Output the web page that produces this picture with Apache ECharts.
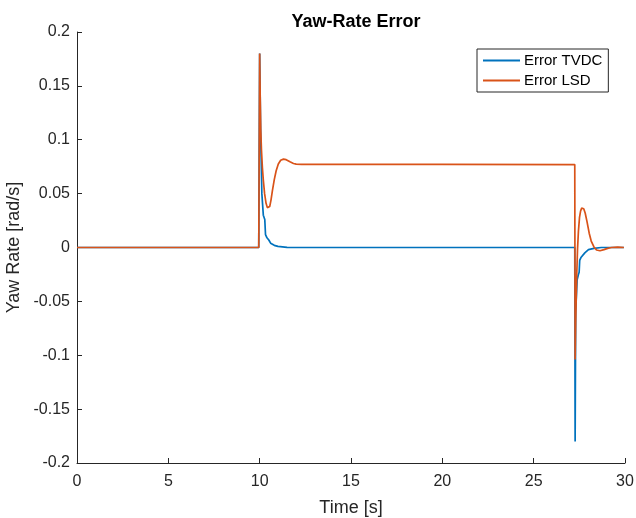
<!DOCTYPE html>
<html>
<head>
<meta charset="utf-8">
<script src="https://cdn.jsdelivr.net/npm/echarts@6/dist/echarts.min.js"></script>
<style>
  html, body { margin: 0; padding: 0; background: #ffffff; }
  #chart { width: 636px; height: 518px; }
</style>
</head>
<body>
<div id="chart"></div>
<script>
// Yaw-rate error traces (time in s, error in rad/s)
var timeTVDC = [0, 9.95, 10.0, 10.05, 10.12, 10.2, 10.28, 10.32, 10.4, 10.5, 10.6, 10.8, 11.0, 11.5, 12.0,
                27.25, 27.27, 27.30, 27.38, 27.45, 27.49, 27.52, 27.6, 27.8, 28.0, 28.3, 28.7, 29.94];
var errTVDC  = [0, 0, 0.18, 0.11, 0.05, 0.03, 0.026, 0.012, 0.009, 0.007, 0.004, 0.002, 0.001, 0.0002, 0,
                0, -0.18, -0.06, -0.03, -0.025, -0.023, -0.012, -0.009, -0.005, -0.002, -0.0008, 0, 0];

var timeLSD = [0, 9.95, 10.0, 10.03, 10.06, 10.1, 10.15, 10.2, 10.27, 10.35, 10.42, 10.48, 10.55, 10.62, 10.7,
               10.8, 10.9, 11.02, 11.15, 11.3, 11.45, 11.66, 11.85, 12.0, 12.3, 15.0, 20.0, 27.25,
               27.27, 27.30, 27.35, 27.40, 27.45, 27.51, 27.57, 27.63, 27.68, 27.74, 27.82, 27.92, 28.04,
               28.15, 28.30, 28.44, 28.63, 28.85, 29.05, 29.26, 29.6, 29.94];
var errLSD  = [0, 0, 0.18, 0.14, 0.109, 0.09, 0.074, 0.0626, 0.05, 0.041, 0.037, 0.0365, 0.038, 0.044, 0.053,
               0.063, 0.071, 0.0775, 0.081, 0.082, 0.0815, 0.0795, 0.078, 0.0774, 0.0772, 0.0772, 0.0771, 0.077,
               -0.104, -0.07, -0.03, -0.002, 0.015, 0.028, 0.034, 0.0365, 0.037, 0.036, 0.032, 0.024, 0.0133,
               0.006, 0.0005, -0.0023, -0.003, -0.002, -0.0008, 0, 0.0003, 0];

var seriesNames = ['Error TVDC', 'Error LSD'];
var xTicks = [0, 5, 10, 15, 20, 25, 30];
var yTicks = [-0.2, -0.15, -0.1, -0.05, 0, 0.05, 0.1, 0.15, 0.2];

function pairs(t, v) {
  return t.map(function (x, i) { return [x, v[i]]; });
}

var axisColor = '#262626';
var fontFam = 'Liberation Sans, Arial, sans-serif';
var chart = echarts.init(document.getElementById('chart'), null, { renderer: 'canvas' });

chart.setOption({
  animation: false,
  backgroundColor: '#ffffff',
  title: {
    text: 'Yaw-Rate Error',
    left: 351,
    textAlign: 'center',
    top: 8,
    textStyle: { fontFamily: fontFam, fontSize: 18, fontWeight: 'bold', color: '#000000' }
  },
  grid: { left: 77, right: 11, top: 32, bottom: 55, containLabel: false, outerBoundsMode: 'none' },
  legend: {
    data: seriesNames,
    orient: 'vertical',
    left: 477,
    top: 49,
    padding: [4, 6, 4, 6],
    itemGap: 5,
    itemWidth: 37,
    itemHeight: 2,
    icon: 'rect',
    borderColor: axisColor,
    borderWidth: 1,
    backgroundColor: '#ffffff',
    textStyle: { fontFamily: fontFam, fontSize: 15, lineHeight: 15, color: '#000000', padding: [0, 0, 0, -1] }
  },
  xAxis: {
    type: 'value',
    min: xTicks[0],
    max: xTicks[xTicks.length - 1],
    interval: 5,
    name: 'Time [s]',
    nameLocation: 'middle',
    nameGap: 36,
    nameTextStyle: { fontFamily: fontFam, fontSize: 18, color: axisColor },
    axisLine: { show: true, onZero: false, lineStyle: { color: axisColor, width: 1 } },
    axisTick: { show: true, inside: true, length: 5, lineStyle: { color: axisColor } },
    axisLabel: { fontFamily: fontFam, fontSize: 16, color: axisColor, margin: 11 },
    splitLine: { show: false }
  },
  yAxis: {
    type: 'value',
    min: yTicks[0],
    max: yTicks[yTicks.length - 1],
    interval: 0.05,
    name: 'Yaw Rate [rad/s]',
    nameLocation: 'middle',
    nameRotate: 90,
    nameGap: 52,
    nameTextStyle: { fontFamily: fontFam, fontSize: 18, color: axisColor },
    axisLine: { show: true, onZero: false, lineStyle: { color: axisColor, width: 1 } },
    axisTick: { show: true, inside: true, length: 5, lineStyle: { color: axisColor } },
    axisLabel: {
      fontFamily: fontFam, fontSize: 16, color: axisColor, margin: 7,
      formatter: function (v) { return String(Math.round(v * 100) / 100); }
    },
    splitLine: { show: false }
  },
  series: [
    {
      name: seriesNames[0],
      type: 'line',
      data: pairs(timeTVDC, errTVDC),
      showSymbol: false,
      color: '#0072BD',
      lineStyle: { width: 1.7, color: '#0072BD' }
    },
    {
      name: seriesNames[1],
      type: 'line',
      data: pairs(timeLSD, errLSD),
      showSymbol: false,
      color: '#D95319',
      lineStyle: { width: 1.7, color: '#D95319' }
    }
  ]
});
</script>
</body>
</html>
